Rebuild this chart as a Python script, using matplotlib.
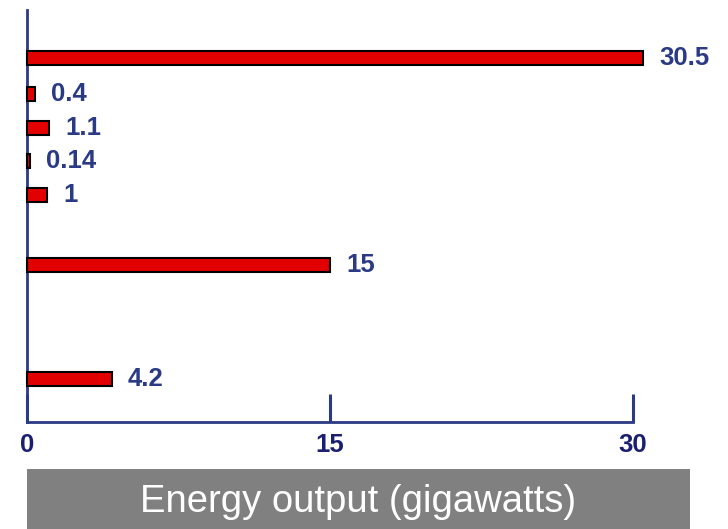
import matplotlib.pyplot as plt
from matplotlib.patches import Rectangle

# values, top to bottom
values = [30.5, 0.4, 1.1, 0.14, 1, 15, 4.2]
labels = ['30.5', '0.4', '1.1', '0.14', '1', '15', '4.2']
rows = [0, 1.06, 2.06, 3.03, 4.03, 6.09, 9.44]
xticks = [0, 15, 30]

navy = '#2a3a84'
tick_navy = '#1b1f70'

plt.rcParams['font.family'] = ['Liberation Sans', 'DejaVu Sans']

fig = plt.figure(figsize=(7.28, 5.29), dpi=100)
ax = fig.add_axes([27 / 728, 1 - 422 / 529, (633 - 27) / 728, 412 / 529])

ax.barh(rows, values, height=0.43, color='#e30000', edgecolor='black',
        linewidth=1.5, clip_on=False, zorder=3)
for r, v, t in zip(rows, values, labels):
    ax.annotate(t, (v, r), xytext=(16, 0), textcoords='offset pixels',
                ha='left', va='center', fontsize=18.5, fontweight='bold',
                color=navy, annotation_clip=False)

ax.set_xlim(0, 30)
ax.set_ylim(10.7, -1.41)
ax.set_yticks([])
ax.set_xticks(xticks)
ax.set_xticklabels([str(x) for x in xticks], fontsize=18.5, fontweight='bold',
                   color=tick_navy)
ax.tick_params(axis='x', direction='in', length=20, width=2.2, color=navy, pad=8)
for s in ['top', 'right']:
    ax.spines[s].set_visible(False)
for s in ['left', 'bottom']:
    ax.spines[s].set_color(navy)
    ax.spines[s].set_linewidth(2)
ax.set_facecolor('none')

# grey title bar under the axis
fig.patches.append(Rectangle((27 / 728, 0), (690 - 27) / 728, 60 / 529,
                             transform=fig.transFigure, facecolor='#808080',
                             edgecolor='none'))
fig.text(358 / 728, 1 - 512 / 529, 'Energy output (gigawatts)', ha='center',
         va='baseline', fontsize=27.5, color='white')

fig.savefig('out.png', dpi=100)
